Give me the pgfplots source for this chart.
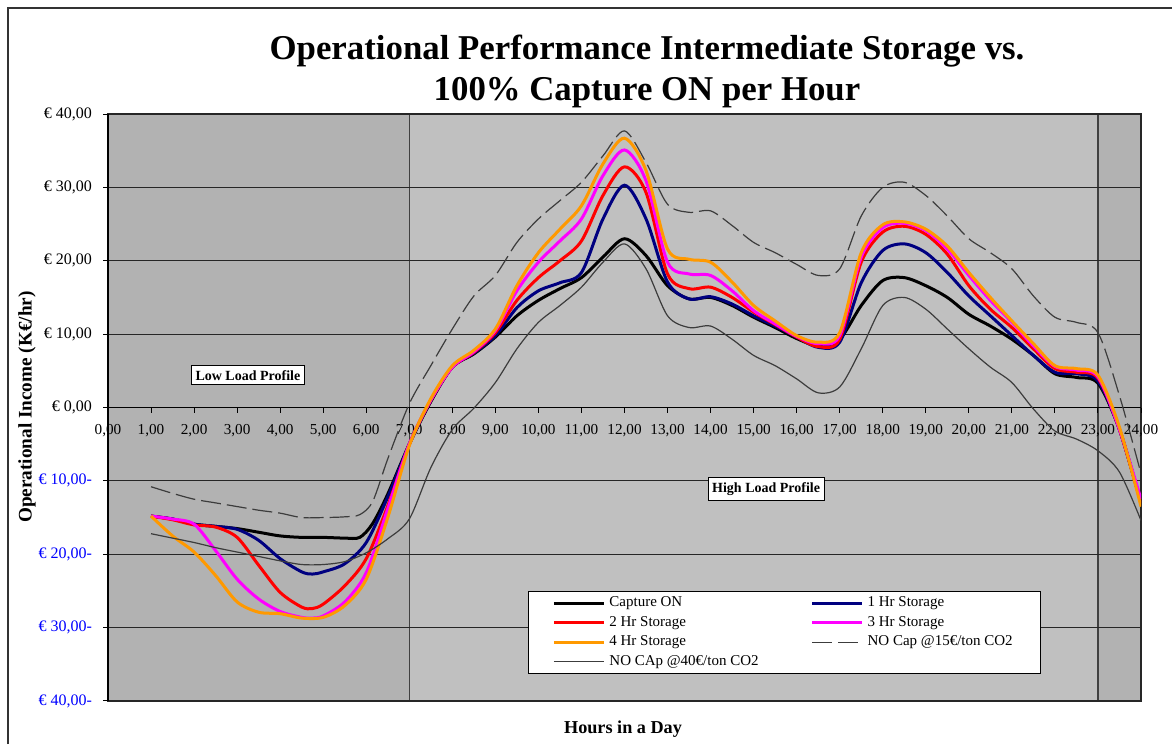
\documentclass[border=0pt]{standalone}
\usepackage{pgfplots}
\pgfplotsset{compat=1.18}
\usepackage{fontspec}
\setmainfont{Liberation Serif}
\definecolor{bgdark}{RGB}{178,178,178}
\definecolor{bglight}{RGB}{192,192,192}
\definecolor{cnavy}{RGB}{0,0,128}
\definecolor{corange}{RGB}{255,153,0}
\definecolor{cmag}{RGB}{255,0,255}
\definecolor{cred}{RGB}{255,0,0}
\definecolor{cgray}{RGB}{60,60,60}
\definecolor{cblue}{RGB}{0,0,255}
\begin{document}
\begin{tikzpicture}
\draw[line width=0.7pt, black!80] (4pt,0pt) -- (4pt,368pt) -- (586pt,368pt);
\node[font=\bfseries\fontsize{17.4}{20.5}\selectfont, align=center] at (323.5pt,336.5pt)
  {Operational Performance Intermediate Storage vs.\\100\% Capture ON per Hour};
\node[font=\bfseries\fontsize{9.6}{11}\selectfont, rotate=90] at (13.5pt,168.5pt) {Operational Income (K€/hr)};
\node[font=\bfseries\fontsize{9.1}{11}\selectfont] at (311.5pt,7.5pt) {Hours in a Day};
\begin{axis}[
  set layers,
  at={(54pt,21.5pt)}, anchor=south west,
  scale only axis, width=516.5pt, height=293.5pt,
  xmin=0, xmax=24, ymin=-40, ymax=40,
  axis x line=middle, axis y line=left,
  axis line style={-, black, line width=0.6pt},
  hide obscured x ticks=false, hide obscured y ticks=false,
  tick align=outside, major tick length=2.5pt,
  tick style={black, line width=0.5pt},
  xtick={0,1,...,24},
  xticklabels={{0,00},{1,00},{2,00},{3,00},{4,00},{5,00},{6,00},{7,00},{8,00},{9,00},{10,00},{11,00},{12,00},{13,00},{14,00},{15,00},{16,00},{17,00},{18,00},{19,00},{20,00},{21,00},{22,00},{23,00},{24,00}},
  ytick={-40,-30,...,40},
  yticklabels={{\color{cblue}€ 40,00-},{\color{cblue}€ 30,00-},{\color{cblue}€ 20,00-},{\color{cblue}€ 10,00-},{€ 0,00},{€ 10,00},{€ 20,00},{€ 30,00},{€ 40,00}},
  xticklabel style={font=\fontsize{7.6}{9}\selectfont, anchor=north, yshift=-2.5pt},
  yticklabel style={font=\fontsize{8}{9}\selectfont, xshift=-2pt},
  ymajorgrids, grid style={black!85, line width=0.5pt},
  legend columns=2,
  legend style={at={(rel axis cs:0.4066,0.046)}, anchor=south west, draw=black, fill=white,
    font=\fontsize{7.5}{9}\selectfont, inner xsep=12pt, inner ysep=0.6pt,
    /tikz/every even column/.append style={column sep=24pt},
    /tikz/row sep=-0.7pt},
  legend cell align=left,
  legend image code/.code={\draw[#1] (0pt,0pt) -- (25pt,0pt);},
]
\addplot[forget plot, fill=bgdark, draw=none, on layer=axis background] coordinates {(0,-40)(7,-40)(7,40)(0,40)} -- cycle;
\addplot[forget plot, fill=bglight, draw=none, on layer=axis background] coordinates {(7,-40)(23,-40)(23,40)(7,40)} -- cycle;
\addplot[forget plot, fill=bgdark, draw=none, on layer=axis background] coordinates {(23,-40)(24,-40)(24,40)(23,40)} -- cycle;
\addplot[forget plot, black!75, line width=0.6pt, on layer=axis background] coordinates {(7,-40)(7,40)};
\addplot[forget plot, black!75, line width=0.6pt, on layer=axis background] coordinates {(23,-40)(23,40)};
\addplot[forget plot, black!85, line width=0.6pt, on layer=axis background] coordinates {(0,-40)(24,-40)(24,40)(0,40)} -- cycle;

\addplot[black, line width=1.5pt, smooth] coordinates {
(1,-14.8)(1.5,-15.2)(2,-15.9)(2.5,-16.2)(3,-16.5)(3.5,-17.0)(4,-17.5)(4.5,-17.7)(5,-17.7)(5.5,-17.8)(5.85,-17.7)(6.15,-15.8)(6.5,-11.8)(7,-5.0)(7.5,0.8)(8,5.5)(8.5,7.3)(9,9.6)(9.5,12.5)(10,14.6)(10.5,16.2)(11,17.7)(11.5,20.5)(12,23.0)(12.5,20.7)(13,16.6)(13.5,14.8)(14,15.0)(14.5,13.9)(15,12.3)(15.5,10.9)(16,9.4)(16.5,8.4)(17,9.3)(17.5,13.9)(18,17.3)(18.5,17.7)(19,16.6)(19.5,15.0)(20,12.7)(20.5,11.1)(21,9.3)(21.5,7.1)(22,4.6)(22.5,4.1)(23,3.3)(23.5,-3.0)(24,-13.0)};
\addlegendentry{Capture ON}
\addplot[cnavy, line width=1.5pt, smooth] coordinates {
(1,-14.8)(1.5,-15.2)(2,-15.9)(2.5,-16.2)(3,-16.6)(3.5,-18.1)(4,-20.6)(4.5,-22.4)(4.75,-22.7)(5,-22.4)(5.5,-21.3)(6,-18.4)(6.5,-12.2)(7,-5.0)(7.5,1.0)(8,5.5)(8.5,7.4)(9,9.8)(9.5,13.6)(10,15.9)(10.5,17.0)(11,18.4)(11.5,25.7)(12,30.3)(12.5,25.7)(13,17.1)(13.5,14.8)(14,15.1)(14.5,14.1)(15,12.5)(15.5,11.1)(16,9.6)(16.5,8.2)(17,8.9)(17.5,17.0)(18,21.4)(18.5,22.3)(19,21.1)(19.5,18.4)(20,15.2)(20.5,12.5)(21,9.8)(21.5,7.1)(22,4.8)(22.5,4.6)(23,3.6)(23.5,-3.0)(24,-13.0)};
\addlegendentry{1 Hr Storage}
\addplot[cred, line width=1.5pt, smooth] coordinates {
(1,-14.8)(1.5,-15.3)(2,-16.0)(2.5,-16.3)(3,-17.7)(3.5,-21.5)(4,-25.2)(4.5,-27.2)(4.75,-27.4)(5,-26.8)(5.5,-24.3)(6,-20.6)(6.5,-13.4)(7,-5.0)(7.5,1.0)(8,5.5)(8.5,7.5)(9,10.2)(9.5,14.6)(10,17.7)(10.5,20.0)(11,22.7)(11.5,28.9)(12,32.8)(12.5,29.3)(13,18.2)(13.5,16.2)(14,16.4)(14.5,15.0)(15,13.0)(15.5,11.3)(16,9.6)(16.5,8.3)(17,9.3)(17.5,19.8)(18,23.9)(18.5,24.7)(19,23.6)(19.5,20.9)(20,16.6)(20.5,13.4)(21,10.9)(21.5,8.0)(22,5.3)(22.5,4.8)(23,4.0)(23.5,-3.0)(24,-13.0)};
\addlegendentry{2 Hr Storage}
\addplot[cmag, line width=1.5pt, smooth] coordinates {
(1,-14.8)(1.5,-15.2)(2,-15.9)(2.5,-19.5)(3,-23.4)(3.5,-26.1)(4,-27.8)(4.5,-28.6)(4.75,-28.7)(5,-28.4)(5.5,-26.5)(6,-22.5)(6.5,-13.8)(7,-5.0)(7.5,1.0)(8,5.5)(8.5,7.6)(9,10.5)(9.5,15.9)(10,19.8)(10.5,22.7)(11,25.7)(11.5,31.6)(12,35.1)(12.5,30.9)(13,19.8)(13.5,18.2)(14,18.0)(14.5,15.9)(15,13.2)(15.5,11.4)(16,9.7)(16.5,8.7)(17,9.8)(17.5,20.5)(18,24.5)(18.5,25.1)(19,24.1)(19.5,21.6)(20,18.0)(20.5,14.6)(21,11.6)(21.5,8.4)(22,5.6)(22.5,5.1)(23,4.2)(23.5,-3.0)(24,-12.5)};
\addlegendentry{3 Hr Storage}
\addplot[corange, line width=1.5pt, smooth] coordinates {
(1,-14.8)(1.5,-17.5)(2,-19.7)(2.5,-22.9)(3,-26.5)(3.5,-27.9)(4,-28.1)(4.5,-28.7)(5,-28.6)(5.5,-27.0)(6,-23.4)(6.5,-15.0)(7,-5.2)(7.5,1.2)(8,5.7)(8.5,7.8)(9,10.7)(9.5,16.6)(10,21.1)(10.5,24.3)(11,27.5)(11.5,33.2)(12,36.7)(12.5,32.3)(13,21.6)(13.5,20.2)(14,19.8)(14.5,17.1)(15,13.9)(15.5,11.8)(16,9.8)(16.5,8.9)(17,10.2)(17.5,21.1)(18,24.9)(18.5,25.3)(19,24.3)(19.5,22.0)(20,18.4)(20.5,15.0)(21,11.8)(21.5,8.7)(22,5.7)(22.5,5.3)(23,4.4)(23.5,-2.7)(24,-13.5)};
\addlegendentry{4 Hr Storage}
\addplot[cgray, line width=0.6pt, dash pattern=on 10pt off 3pt, smooth] coordinates {
(1,-10.8)(1.5,-11.7)(2,-12.5)(2.5,-13.0)(3,-13.5)(3.5,-14.0)(4,-14.4)(4.5,-15.0)(5,-15.0)(5.5,-14.9)(5.85,-14.6)(6.15,-12.8)(6.5,-7.0)(7,0.5)(7.5,5.7)(8,10.7)(8.5,15.2)(9,18.0)(9.5,22.5)(10,25.7)(10.5,28.2)(11,30.7)(11.5,34.3)(12,37.7)(12.5,33.4)(13,27.7)(13.5,26.6)(14,26.8)(14.5,24.8)(15,22.5)(15.5,21.1)(16,19.5)(16.5,18.0)(17,18.9)(17.5,26.1)(18,30.0)(18.5,30.7)(19,28.9)(19.5,26.1)(20,23.0)(20.5,21.1)(21,18.9)(21.5,15.2)(22,12.3)(22.5,11.6)(23,10.2)(23.5,1.6)(24,-9.0)};
\addlegendentry{NO Cap @15€/ton CO2}
\addplot[cgray, line width=0.6pt, smooth] coordinates {
(1,-17.2)(1.5,-17.8)(2,-18.4)(2.5,-19.1)(3,-19.7)(3.5,-20.3)(4,-20.9)(4.5,-21.4)(5,-21.4)(5.5,-21.0)(6,-19.8)(6.5,-17.9)(7,-15.2)(7.5,-8.2)(8,-3.0)(8.5,-0.1)(9,3.4)(9.5,8.0)(10,11.6)(10.5,13.9)(11,16.4)(11.5,19.8)(12,22.3)(12.5,18.9)(13,12.5)(13.5,10.9)(14,11.1)(14.5,9.3)(15,7.1)(15.5,5.7)(16,3.9)(16.5,2.0)(17,2.8)(17.5,8.0)(18,13.9)(18.5,15.0)(19,13.4)(19.5,10.7)(20,8.0)(20.5,5.5)(21,3.4)(21.5,-0.2)(22,-3.2)(22.5,-4.3)(23,-5.9)(23.5,-8.8)(24,-15.4)};
\addlegendentry{NO CAp @40€/ton CO2}

\node[draw=black, fill=white, font=\bfseries\fontsize{7}{8}\selectfont, inner xsep=2pt, inner ysep=2.3pt] at (axis cs:3.25,4.4) {Low Load Profile};
\node[draw=black, fill=white, font=\bfseries\fontsize{7}{8}\selectfont, inner xsep=2pt, inner ysep=2.3pt] at (axis cs:15.29,-11.1) {High Load Profile};
\end{axis}
\pgfresetboundingbox
\path (0,0) rectangle (586pt,372pt);
\end{tikzpicture}
\end{document}
